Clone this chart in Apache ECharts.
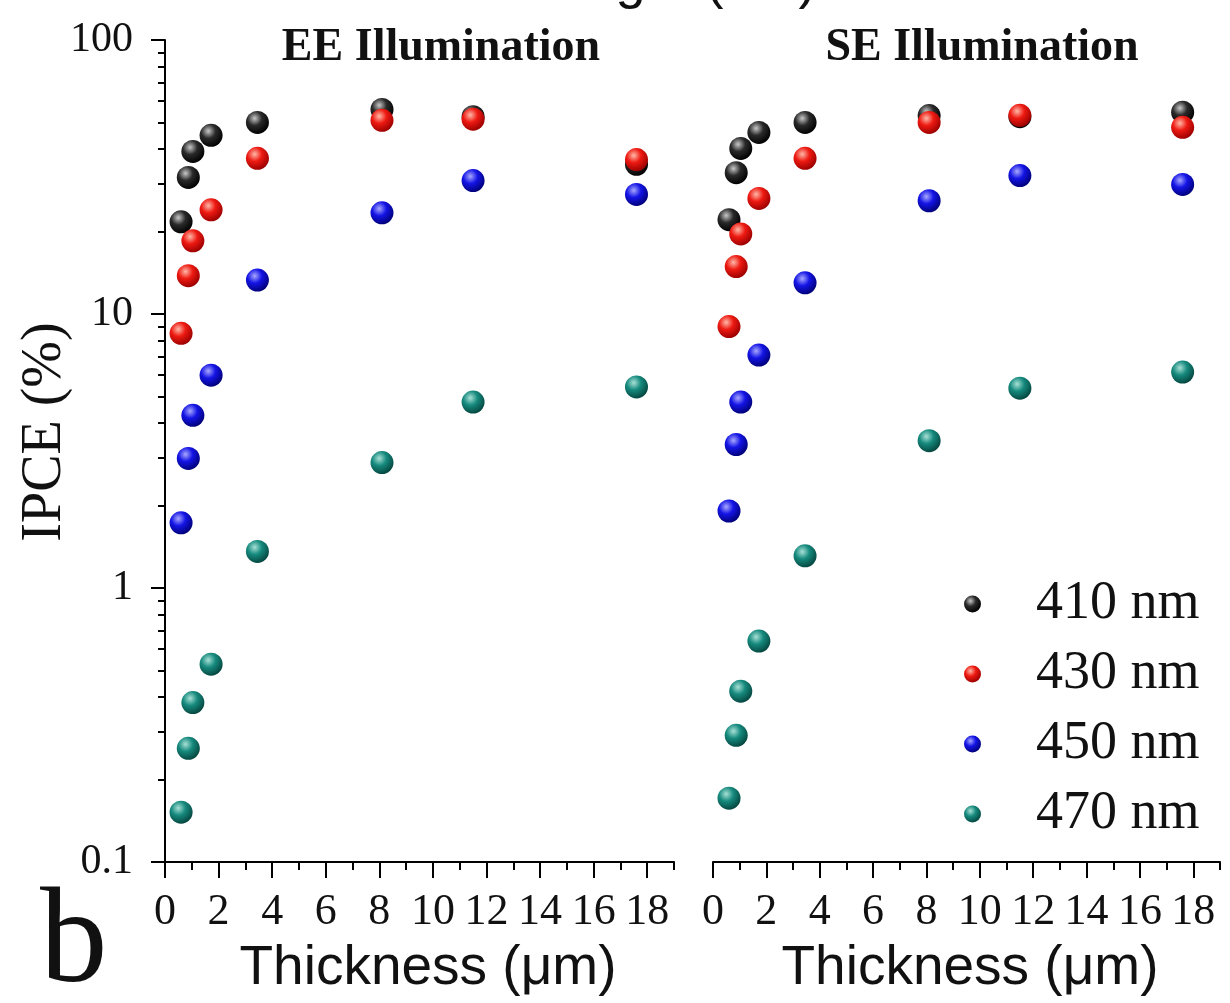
<!DOCTYPE html>
<html lang="en">
<head>
    <title>IPCE vs thickness</title>
    <meta charset="utf-8"/>
    <script src="https://cdn.jsdelivr.net/npm/echarts@6.0.0/dist/echarts.min.js"></script>
    <style>
        html, body { margin: 0; padding: 0; background: #fff; }
        #chart { width: 1230px; height: 1003px; }
    </style>
</head>
<body>
<div id="chart"></div>
<script type="text/javascript">
    // thickness (um) of the films, same set for both panels
    var thickness = [0.6, 0.87, 1.04, 1.72, 3.45, 8.1, 11.5, 17.6];
    var wavelengths = ['410 nm', '430 nm', '450 nm', '470 nm'];

    // EE illumination, IPCE (%)
    var ee410 = [21.7, 31.5, 39.2, 44.9, 50.0, 55.8, 52.5, 35.2];
    var ee430 = [8.5, 13.8, 18.5, 24.0, 37.0, 50.9, 51.4, 36.6];
    var ee450 = [1.73, 2.97, 4.27, 5.98, 13.3, 23.4, 30.7, 27.3];
    var ee470 = [0.152, 0.26, 0.382, 0.527, 1.36, 2.87, 4.77, 5.42];

    // SE illumination, IPCE (%)
    var se410 = [22.1, 32.8, 40.2, 46.0, 50.0, 53.0, 52.5, 54.5];
    var se430 = [9.0, 14.9, 19.6, 26.4, 37.0, 50.0, 53.1, 48.0];
    var se450 = [1.91, 3.34, 4.77, 7.08, 13.0, 25.9, 32.0, 29.7];
    var se470 = [0.171, 0.29, 0.42, 0.64, 1.31, 3.45, 5.36, 6.14];

    // ticks
    var xMajorTicks = [0, 2, 4, 6, 8, 10, 12, 14, 16, 18];
    var xMinorTicks = [1, 3, 5, 7, 9, 11, 13, 15, 17, 19];
    var yMinorTicks = [0.2, 0.3, 0.4, 0.5, 0.6, 0.7, 0.8, 0.9,
        2, 3, 4, 5, 6, 7, 8, 9, 20, 30, 40, 50, 60, 70, 80, 90];

    var serif = '"Liberation Serif", "Times New Roman", serif';
    var sans = '"Liberation Sans", Arial, sans-serif';

    function sphere(light, base, dark) {
        return {
            type: 'radial', x: 0.38, y: 0.32, r: 0.7,
            colorStops: [
                {offset: 0, color: light},
                {offset: 0.45, color: base},
                {offset: 1, color: dark}
            ]
        };
    }
    var colors = [
        sphere('#c8c8c8', '#2a2a2a', '#000000'),
        sphere('#ffb8a8', '#ee1a12', '#9a0000'),
        sphere('#a8a8ff', '#1414e6', '#000078'),
        sphere('#a8e0d6', '#168a7e', '#05463f')
    ];

    function xAxisPair(gridIndex) {
        return [{
            gridIndex: gridIndex, type: 'value', min: 0, max: 19, interval: 2, position: 'bottom',
            axisLine: {onZero: false, lineStyle: {color: '#000', width: 2}},
            axisTick: {customValues: xMajorTicks, length: 16, lineStyle: {color: '#000', width: 2}},
            axisLabel: {customValues: xMajorTicks, color: '#111', fontFamily: serif, fontSize: 44, margin: 28},
            splitLine: {show: false}
        }, {
            gridIndex: gridIndex, type: 'value', min: 0, max: 19, position: 'bottom',
            axisLine: {show: false, onZero: false},
            axisTick: {customValues: xMinorTicks, length: 8, lineStyle: {color: '#000', width: 2}},
            axisLabel: {show: false},
            splitLine: {show: false}
        }];
    }

    var xAxes = xAxisPair(0).concat(xAxisPair(1));
    var yAxes = [{
        gridIndex: 0, type: 'log', logBase: 10, min: 0.1, max: 100, position: 'left',
        axisLine: {onZero: false, lineStyle: {color: '#000', width: 2}},
        axisTick: {length: 14, lineStyle: {color: '#000', width: 2}},
        axisLabel: {color: '#111', fontFamily: serif, fontSize: 42, margin: 32},
        splitLine: {show: false}
    }, {
        // minor ticks drawn in log space on a hidden linear axis
        gridIndex: 0, type: 'value', min: -1, max: 2, position: 'left',
        axisLine: {show: false, onZero: false},
        axisTick: {customValues: yMinorTicks.map(Math.log10), length: 7, lineStyle: {color: '#000', width: 2}},
        axisLabel: {show: false},
        splitLine: {show: false}
    }, {
        gridIndex: 1, type: 'log', logBase: 10, min: 0.1, max: 100,
        axisLine: {show: false, onZero: false}, axisTick: {show: false}, axisLabel: {show: false},
        splitLine: {show: false}
    }];

    var eeSets = [ee410, ee430, ee450, ee470];
    var seSets = [se410, se430, se450, se470];

    function pairs(vals) {
        return thickness.map(function (t, i) { return [t, vals[i]]; });
    }

    var series = [];
    wavelengths.forEach(function (name, i) {
        series.push({
            name: name, type: 'scatter', xAxisIndex: 0, yAxisIndex: 0,
            symbol: 'circle', symbolSize: 23,
            itemStyle: {color: colors[i], opacity: 1},
            data: pairs(eeSets[i])
        });
    });
    wavelengths.forEach(function (name, i) {
        series.push({
            name: name, type: 'scatter', xAxisIndex: 2, yAxisIndex: 2,
            symbol: 'circle', symbolSize: 23,
            itemStyle: {color: colors[i], opacity: 1},
            data: pairs(seSets[i])
        });
    });

    var chart = echarts.init(document.getElementById('chart'), null, {renderer: 'canvas'});
    var option = {
        animation: false,
        backgroundColor: '#fff',
        grid: [
            {left: 165, top: 40, width: 509, height: 822},
            {left: 713, top: 40, width: 507, height: 822}
        ],
        xAxis: xAxes,
        yAxis: yAxes,
        legend: {
            data: wavelengths,
            orient: 'vertical',
            left: 959, top: 572,
            itemWidth: 17, itemHeight: 17, itemGap: 16,
            icon: 'circle',
            textStyle: {color: '#111', fontFamily: serif, fontSize: 54, padding: [0, 0, 0, 50]}
        },
        graphic: [
            {type: 'text', x: 612, y: 10, style: {text: 'Wavelength (nm)', font: '54px ' + sans, fill: '#111', align: 'center', verticalAlign: 'bottom'}},
            {type: 'text', x: 441, y: 48, style: {text: 'EE Illumination', font: 'bold 46px ' + serif, fill: '#111', align: 'center', verticalAlign: 'middle'}},
            {type: 'text', x: 982, y: 48, style: {text: 'SE Illumination', font: 'bold 46px ' + serif, fill: '#111', align: 'center', verticalAlign: 'middle'}},
            {type: 'text', x: 45, y: 432, rotation: Math.PI / 2, style: {text: 'IPCE (%)', font: '56px ' + serif, fill: '#111', align: 'center', verticalAlign: 'middle'}},
            {type: 'text', x: 428, y: 969, style: {text: 'Thickness (\u03bcm)', font: '55px ' + sans, fill: '#111', align: 'center', verticalAlign: 'middle'}},
            {type: 'text', x: 970, y: 969, style: {text: 'Thickness (\u03bcm)', font: '55px ' + sans, fill: '#111', align: 'center', verticalAlign: 'middle'}},
            {type: 'text', x: 40, y: 946, style: {text: 'b', font: '135px ' + serif, fill: '#111', align: 'left', verticalAlign: 'middle'}}
        ],
        series: series
    };
    chart.setOption(option);
</script>
</body>
</html>
